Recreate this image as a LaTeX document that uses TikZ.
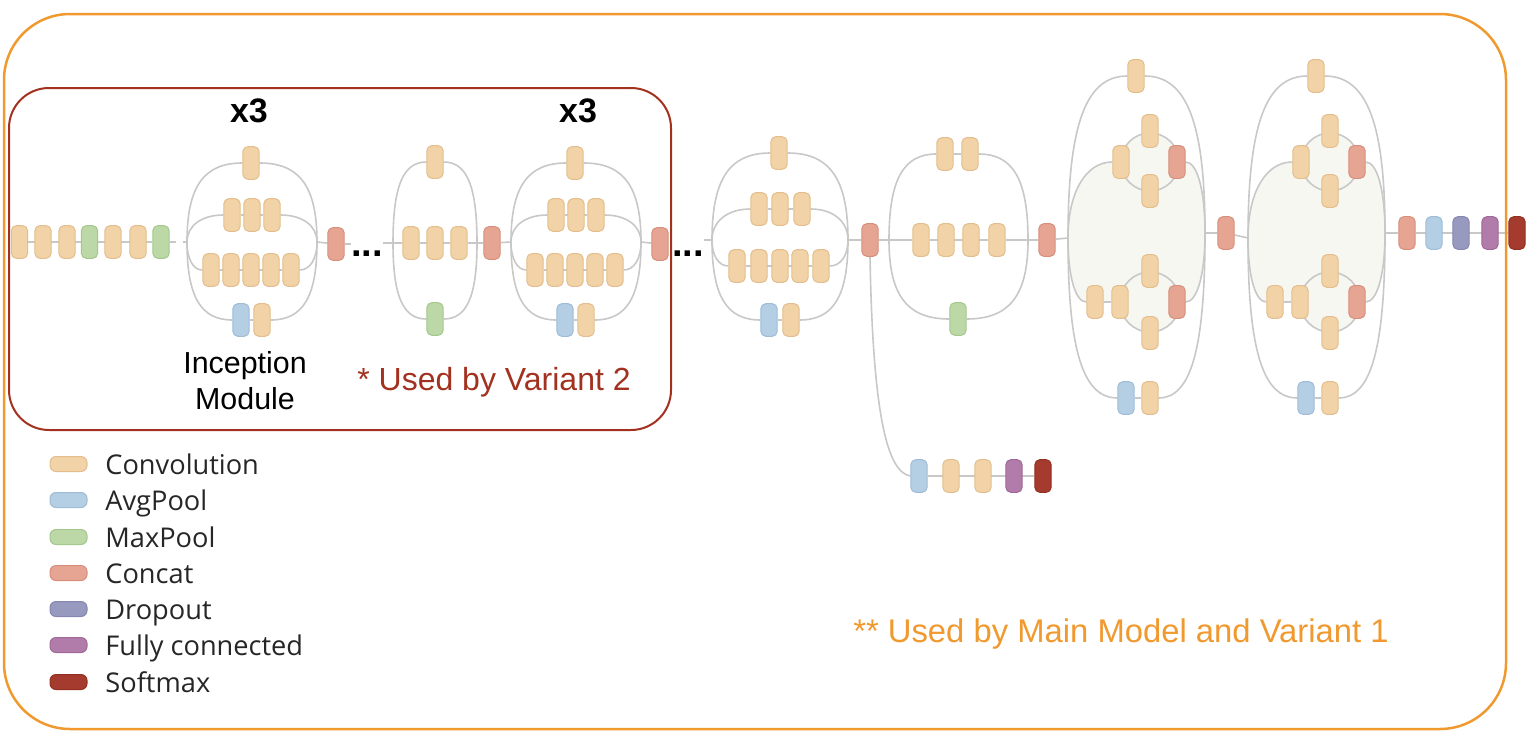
\documentclass[tikz,border=0pt]{standalone}
\usepackage{fontspec}
\setmainfont{Liberation Sans}
\newfontfamily\legfont{Open Sans}
\usetikzlibrary{calc}
\pgfdeclarelayer{back}\pgfdeclarelayer{bg}
\pgfsetlayers{back,bg,main}
\definecolor{convC}{HTML}{F2D3A7}\definecolor{convD}{HTML}{E3BE8C}
\definecolor{avgC}{HTML}{B4CFE4}\definecolor{avgD}{HTML}{9EBCD6}
\definecolor{maxC}{HTML}{BCD8A6}\definecolor{maxD}{HTML}{A4C78E}
\definecolor{catC}{HTML}{E6A592}\definecolor{catD}{HTML}{D78F7C}
\definecolor{dropC}{HTML}{9899BF}\definecolor{dropD}{HTML}{8587B0}
\definecolor{fcC}{HTML}{B17BAA}\definecolor{fcD}{HTML}{9F6898}
\definecolor{smC}{HTML}{A53A2E}\definecolor{smD}{HTML}{93301F}
\definecolor{lineC}{HTML}{C8C8C8}
\definecolor{blobC}{HTML}{F7F7F2}
\definecolor{redB}{HTML}{A3311F}
\definecolor{orB}{HTML}{F0992F}
\tikzset{
 bx/.style={rounded corners=2.6pt, minimum width=8.2pt, minimum height=16.4pt, inner sep=0pt, line width=0.5pt},
 cvc/.style={fill=convC, draw=convD}, avc/.style={fill=avgC, draw=avgD},
 mpc/.style={fill=maxC, draw=maxD}, ctc/.style={fill=catC, draw=catD},
 dpc/.style={fill=dropC, draw=dropD}, fcc/.style={fill=fcC, draw=fcD},
 smc/.style={fill=smC, draw=smD},
 cv/.style={bx,cvc}, av/.style={bx,avc}, mp/.style={bx,mpc}, ct/.style={bx,ctc},
 dp/.style={bx,dpc}, fc/.style={bx,fcc}, sm/.style={bx,smc},
 ln/.style={draw=lineC, line width=0.8pt},
 sw/.style={rounded corners=3pt, minimum width=18.5pt, minimum height=7.5pt, inner sep=0pt, line width=0.5pt},
 legtxt/.style={font=\legfont\fontsize{13.6}{16}\selectfont, anchor=base west, inner sep=0pt, text=black!85},
}
\newcommand\qcurve[3][0.6]{\draw[ln] (#2) .. controls ($(#2)!#1!(#2|-#3)$) and ($(#3)!#1!(#2|-#3)$) .. (#3);}
% inception A module
\newcommand\modA[2]{%
 \coordinate (#1L) at ({#2+187},242);
 \coordinate (#1R) at ({#2+317},242);
 \node[cv] (#1t) at ({#2+251},163) {};
 \node[cv] (#1a1) at ({#2+232},215) {};
 \node[cv] (#1a2) at ({#2+252},215) {};
 \node[cv] (#1a3) at ({#2+272},215) {};
 \node[cv] (#1b1) at ({#2+211},270) {};
 \node[cv] (#1b2) at ({#2+231},270) {};
 \node[cv] (#1b3) at ({#2+251},270) {};
 \node[cv] (#1b4) at ({#2+271},270) {};
 \node[cv] (#1b5) at ({#2+291},270) {};
 \node[av] (#1c1) at ({#2+241},320) {};
 \node[cv] (#1c2) at ({#2+262},320) {};
 \node[ct] (#1k) at ({#2+336},244) {};
 \begin{pgfonlayer}{bg}
 \qcurve[0.7]{#1L}{#1t.west}\qcurve[0.7]{#1R}{#1t.east}
 \qcurve{#1L}{#1a1.west}\qcurve{#1R}{#1a3.east}
 \draw[ln] (#1a1)--(#1a3);
 \qcurve{#1L}{#1b1.west}\qcurve{#1R}{#1b5.east}
 \draw[ln] (#1b1)--(#1b5);
 \qcurve[0.7]{#1L}{#1c1.west}\qcurve[0.7]{#1R}{#1c2.east}
 \draw[ln] (#1c1)--(#1c2);
 \draw[ln] (#1R)--(#1k);
 \end{pgfonlayer}
}
% inception C module
\newcommand\modC[2]{%
 \coordinate (#1L) at ({#2+1068},238);
 \coordinate (#1R) at ({#2+1205},233);
 \coordinate (#1uo) at ({#2+1150},162);
 \coordinate (#1lo) at ({#2+1150},302);
 \node[cv] (#1t) at ({#2+1136},76) {};
 \node[cv] (#1u1) at ({#2+1121},162) {};
 \node[cv] (#1ut) at ({#2+1150},131) {};
 \node[cv] (#1ub) at ({#2+1150},191) {};
 \node[ct] (#1uc) at ({#2+1177},162) {};
 \node[cv] (#1l0) at ({#2+1095},302) {};
 \node[cv] (#1l1) at ({#2+1120},302) {};
 \node[cv] (#1lt) at ({#2+1150},271) {};
 \node[cv] (#1lb) at ({#2+1150},333) {};
 \node[ct] (#1lc) at ({#2+1177},302) {};
 \node[av] (#1b1) at ({#2+1126},398) {};
 \node[cv] (#1b2) at ({#2+1150},398) {};
 \begin{pgfonlayer}{back}
 \fill[blobC] (#1L) .. controls ($(#1L)!.6!(#1L|-#1u1.west)$) and ($(#1u1.west)!.6!(#1L|-#1u1.west)$) .. (#1u1.west)
   -- (#1uc.east) .. controls ($(#1uc.east)!.6!(#1R|-#1uc.east)$) and ($(#1R)!.6!(#1R|-#1uc.east)$) .. (#1R)
   .. controls ($(#1R)!.6!(#1R|-#1lc.east)$) and ($(#1lc.east)!.6!(#1R|-#1lc.east)$) .. (#1lc.east)
   -- (#1l0.west) .. controls ($(#1l0.west)!.6!(#1L|-#1l0.west)$) and ($(#1L)!.6!(#1L|-#1l0.west)$) .. (#1L) -- cycle;
 \fill[blobC] (#1uo) circle[radius=29];
 \fill[blobC] (#1lo) circle[radius=30];
 \end{pgfonlayer}
 \begin{pgfonlayer}{bg}
 \qcurve[0.7]{#1L}{#1t.west}\qcurve[0.7]{#1R}{#1t.east}
 \qcurve{#1L}{#1u1.west}\qcurve{#1R}{#1uc.east}
 \qcurve{#1L}{#1l0.west}\qcurve{#1R}{#1lc.east}
 \draw[ln] (#1l0)--(#1l1);
 \draw[ln] (#1uo) circle[radius=29];
 \draw[ln] (#1lo) circle[radius=30];
 \qcurve[0.7]{#1L}{#1b1.west}\qcurve[0.7]{#1R}{#1b2.east}
 \draw[ln] (#1b1)--(#1b2);
 \end{pgfonlayer}
}
\begin{document}
\begin{tikzpicture}[x=0.5pt,y=-0.5pt]
\useasboundingbox (0,0) rectangle (1532,750);
% frames
\draw[orB, line width=1.25pt, rounded corners=33pt] (4,14) rectangle (1506,729);
\draw[redB, line width=1pt, rounded corners=20pt] (9,88) rectangle (671,430);
% stem
\node[cv] (p1) at (19.5,242) {};
\node[cv] (p2) at (43,242) {};
\node[cv] (p3) at (67,242) {};
\node[mp] (p4) at (89.5,242) {};
\node[cv] (p5) at (113,242) {};
\node[cv] (p6) at (138,242) {};
\node[mp] (p7) at (161,242) {};
\begin{pgfonlayer}{bg}\draw[ln] (p1)--(p7);\end{pgfonlayer}
% module 1
\modA{m1}{0}
\draw[ln, dash pattern=on 3pt off 3.5pt] (p7.east)--(m1L);
\node[font=\bfseries\fontsize{19}{20}\selectfont, inner sep=0pt, anchor=base] (d1) at (367,256) {...};
\draw[ln] (m1k.east)--(m1k.east -| d1.west);
% module 2
\coordinate (m2L) at (393,243);
\coordinate (m2R) at (477,243);
\node[cv] (m2t) at (435,162) {};
\node[cv] (m2a1) at (411,243) {};
\node[cv] (m2a2) at (435,243) {};
\node[cv] (m2a3) at (459,243) {};
\node[mp] (m2c) at (435,319) {};
\node[ct] (m2k) at (492,243) {};
\begin{pgfonlayer}{bg}
\draw[ln] (d1.east |- m2L)--(m2L)--(m2a1)--(m2a3)--(m2R)--(m2k);
\qcurve[0.7]{m2L}{m2t.west}\qcurve[0.7]{m2R}{m2t.east}
\qcurve[0.7]{m2L}{m2c.west}\qcurve[0.7]{m2R}{m2c.east}
\end{pgfonlayer}
% module 3
\modA{m3}{324}
\begin{pgfonlayer}{bg}\draw[ln] (m2k)--(m3L);\end{pgfonlayer}
\node[font=\bfseries\fontsize{19}{20}\selectfont, inner sep=0pt, anchor=base] (d2) at (688,256) {...};
% module 4
\coordinate (m4L) at (712,240);
\coordinate (m4R) at (848,240);
\node[cv] (m4t) at (779,153) {};
\node[cv] (m4a1) at (759,209) {};
\node[cv] (m4a2) at (780,209) {};
\node[cv] (m4a3) at (802,209) {};
\node[cv] (m4b1) at (737,266) {};
\node[cv] (m4b2) at (759,266) {};
\node[cv] (m4b3) at (780,266) {};
\node[cv] (m4b4) at (800,266) {};
\node[cv] (m4b5) at (821,266) {};
\node[av] (m4c1) at (769,320) {};
\node[cv] (m4c2) at (791,320) {};
\node[ct] (m4k) at (870,240) {};
\begin{pgfonlayer}{bg}
\draw[ln] (d2.east |- m4L)--(m4L);
\qcurve[0.7]{m4L}{m4t.west}\qcurve[0.7]{m4R}{m4t.east}
\qcurve{m4L}{m4a1.west}\qcurve{m4R}{m4a3.east}
\draw[ln] (m4a1)--(m4a3);
\qcurve{m4L}{m4b1.west}\qcurve{m4R}{m4b5.east}
\draw[ln] (m4b1)--(m4b5);
\qcurve[0.7]{m4L}{m4c1.west}\qcurve[0.7]{m4R}{m4c2.east}
\draw[ln] (m4c1)--(m4c2);
\draw[ln] (m4R)--(m4k);
\end{pgfonlayer}
% auxiliary classifier
\node[av] (x1) at (919,476) {};
\node[cv] (x2) at (951,476) {};
\node[cv] (x3) at (983,476) {};
\node[fc] (x4) at (1014,476) {};
\node[sm] (x5) at (1043,476) {};
\begin{pgfonlayer}{bg}
\draw[ln] (m4k.south) .. controls (873,420) and (888,472) .. (x1.west);
\draw[ln] (x1)--(x5);
\end{pgfonlayer}
% module 5
\coordinate (m5L) at (889,240);
\coordinate (m5R) at (1028,240);
\node[cv] (m5t1) at (945,154) {};
\node[cv] (m5t2) at (970,154) {};
\node[cv] (m5a1) at (921,240) {};
\node[cv] (m5a2) at (946,240) {};
\node[cv] (m5a3) at (971,240) {};
\node[cv] (m5a4) at (997,240) {};
\node[mp] (m5c) at (958,319) {};
\node[ct] (m5k) at (1047,240) {};
\begin{pgfonlayer}{bg}
\draw[ln] (m4k)--(m5L)--(m5a1)--(m5a4)--(m5R)--(m5k);
\qcurve[0.7]{m5L}{m5t1.west}\qcurve[0.7]{m5R}{m5t2.east}
\draw[ln] (m5t1)--(m5t2);
\qcurve[0.7]{m5L}{m5c.west}\qcurve[0.7]{m5R}{m5c.east}
\end{pgfonlayer}
% modules 6, 7
\modC{m6}{0}
\modC{m7}{180}
\node[ct] (m6k) at (1226,233) {};
\begin{pgfonlayer}{bg}
\draw[ln] (m5k)--(m6L);
\draw[ln] (m6R)--(m6k)--(m7L);
\end{pgfonlayer}
% head
\node[ct] (h1) at (1407,233) {};
\node[av] (h2) at (1434,233) {};
\node[dp] (h3) at (1461,233) {};
\node[fc] (h4) at (1490,233) {};
\node[sm] (h5) at (1517,233) {};
\begin{pgfonlayer}{bg}\draw[ln] (m7R)--(h1)--(h5);\end{pgfonlayer}
% labels
\node[font=\bfseries\fontsize{17}{20}\selectfont] (lx1) at (249,111) {x3};
\node[font=\bfseries\fontsize{17}{20}\selectfont] (lx2) at (578,111) {x3};
\node[align=center, font=\fontsize{15.2}{18}\selectfont] (lim) at (245,381) {Inception\\Module};
\node[text=redB, font=\fontsize{16}{19}\selectfont] (lv2) at (494,382) {* Used by Variant 2};
\node[text=orB, font=\fontsize{16.4}{19}\selectfont] (lv1) at (1121,634) {** Used by Main Model and Variant 1};
% legend
\node[sw,cvc] (s1) at (68.5,464) {}; \node[legtxt] (t1) at (105,474) {Convolution};
\node[sw,avc] (s2) at (68.5,500) {}; \node[legtxt] (t2) at (105,510) {AvgPool};
\node[sw,mpc] (s3) at (68.5,537) {}; \node[legtxt] (t3) at (105,547) {MaxPool};
\node[sw,ctc] (s4) at (68.5,573) {}; \node[legtxt] (t4) at (105,583) {Concat};
\node[sw,dpc] (s5) at (68.5,609) {}; \node[legtxt] (t5) at (105,619) {Dropout};
\node[sw,fcc] (s6) at (68.5,645) {}; \node[legtxt] (t6) at (105,655) {Fully connected};
\node[sw,smc] (s7) at (68.5,682) {}; \node[legtxt] (t7) at (105,692) {Softmax};
\end{tikzpicture}
\end{document}
